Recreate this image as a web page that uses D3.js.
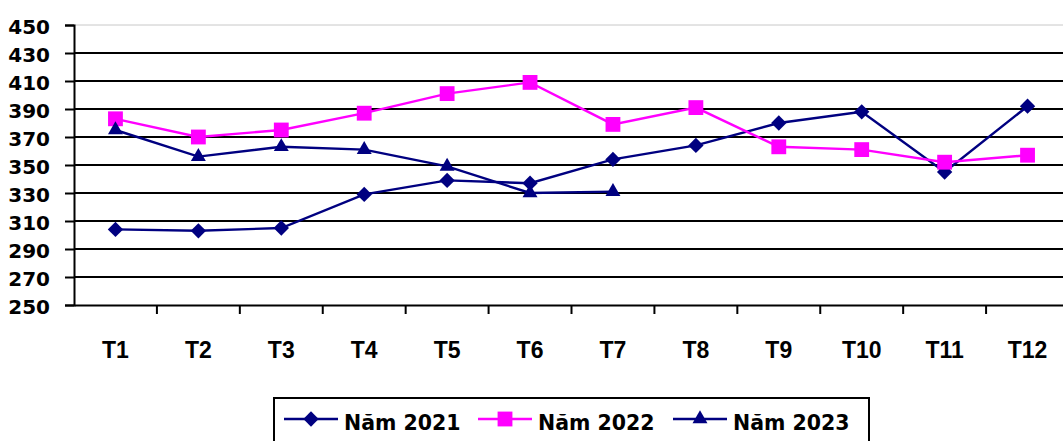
<!DOCTYPE html>
<html>
<head>
<meta charset="utf-8">
<script src="https://cdn.jsdelivr.net/npm/d3@7"></script>
<style>
  html, body { margin: 0; padding: 0; background: #fff; }
  svg { display: block; }
</style>
</head>
<body>
<svg id="chart" width="1063" height="441"></svg>
<script>
const months = ["T1","T2","T3","T4","T5","T6","T7","T8","T9","T10","T11","T12"];
const yTicks = [250,270,290,310,330,350,370,390,410,430,450];
const seriesNames = ["Năm 2021","Năm 2022","Năm 2023"];
const values2021 = [304,303,305,329,339,337,354,364,380,388,345,392];
const values2022 = [383,370,375,387,401,409,379,391,363,361,352,357];
const values2023 = [375,356,363,361,349,330,331];
const seriesColors = ["#000080","#FF00FF","#000080"];
const seriesSymbols = ["diamond","square","triangle"];

const svg = d3.select("#chart");
const plotLeft = 74, plotRight = 1069, plotTop = 25, plotBottom = 305;

const x = d3.scaleBand().domain(months).range([plotLeft, plotRight]).padding(0);
const y = d3.scaleLinear().domain([250, 450]).range([plotBottom, plotTop]);

// top border (light)
svg.append("line").attr("x1", plotLeft).attr("x2", plotRight).attr("y1", y(450)).attr("y2", y(450))
  .attr("stroke", "#c8c8c8").attr("stroke-width", 1);

// gridlines
svg.append("g").selectAll("line").data(yTicks.filter(d => d > 250 && d < 450)).join("line")
  .attr("x1", plotLeft).attr("x2", plotRight)
  .attr("y1", d => y(d)).attr("y2", d => y(d))
  .attr("stroke", "#000").attr("stroke-width", 2);

// y axis
const yAxis = d3.axisLeft(y).tickValues(yTicks).tickSize(9).tickFormat(d3.format("d"));
const gy = svg.append("g").attr("transform", `translate(${plotLeft},0)`).call(yAxis);
gy.select(".domain").attr("stroke", "#000").attr("stroke-width", 2);
gy.selectAll(".tick line").attr("stroke", "#000").attr("stroke-width", 2);
gy.selectAll(".tick text")
  .attr("x", -24).attr("dy", "0.42em")
  .attr("fill", "#000")
  .style("font-family", "DejaVu Sans").style("font-weight", "bold").style("font-size", "20px");

// x axis
const xAxis = d3.axisBottom(x).tickSize(0).tickSizeOuter(0);
const gx = svg.append("g").attr("transform", `translate(0,${plotBottom})`).call(xAxis);
gx.select(".domain").attr("stroke", "#000").attr("stroke-width", 2);
gx.selectAll(".tick text")
  .attr("y", 53).attr("dy", 0)
  .attr("fill", "#000")
  .style("font-family", "Liberation Sans").style("font-weight", "bold").style("font-size", "23px");
// category boundary ticks
svg.append("g").selectAll("line").data(months.slice(1)).join("line")
  .attr("x1", d => x(d)).attr("x2", d => x(d))
  .attr("y1", plotBottom).attr("y2", plotBottom + 9)
  .attr("stroke", "#000").attr("stroke-width", 2);

const allSeries = [values2021, values2022, values2023];
const cx = i => x(months[i]) + x.bandwidth() / 2;

function symbolPath(type) {
  if (type === "diamond") return d3.symbol(d3.symbolDiamond2, 150)();
  if (type === "square") return d3.symbol(d3.symbolSquare2, 280)();
  return d3.symbol(d3.symbolTriangle2, 160)();
}

const line = d3.line().x((d, i) => cx(i)).y(d => y(d));
allSeries.forEach((vals, s) => {
  const g = svg.append("g");
  g.append("path").datum(vals).attr("d", line)
    .attr("fill", "none").attr("stroke", seriesColors[s]).attr("stroke-width", 2.4);
  g.selectAll("path.m").data(vals).join("path").attr("class", "m")
    .attr("transform", (d, i) => `translate(${cx(i)},${y(d)})`)
    .attr("d", symbolPath(seriesSymbols[s]))
    .attr("fill", seriesColors[s]);
});

// legend
const legend = svg.append("g");
legend.append("rect").attr("x", 274).attr("y", 398).attr("width", 595).attr("height", 60)
  .attr("fill", "#fff").attr("stroke", "#000").attr("stroke-width", 2);
const legendStarts = [284, 478, 673];
seriesNames.forEach((name, s) => {
  const lx = legendStarts[s], ly = 419;
  legend.append("line").attr("x1", lx).attr("x2", lx + 54).attr("y1", ly).attr("y2", ly)
    .attr("stroke", seriesColors[s]).attr("stroke-width", 2.4);
  legend.append("path").attr("transform", `translate(${lx + 27},${ly})`)
    .attr("d", symbolPath(seriesSymbols[s])).attr("fill", seriesColors[s]);
  legend.append("text").attr("x", lx + 60).attr("y", 430).text(name)
    .attr("fill", "#000")
    .style("font-family", "DejaVu Sans").style("font-weight", "bold").style("font-size", "20.5px");
});
</script>
</body>
</html>
